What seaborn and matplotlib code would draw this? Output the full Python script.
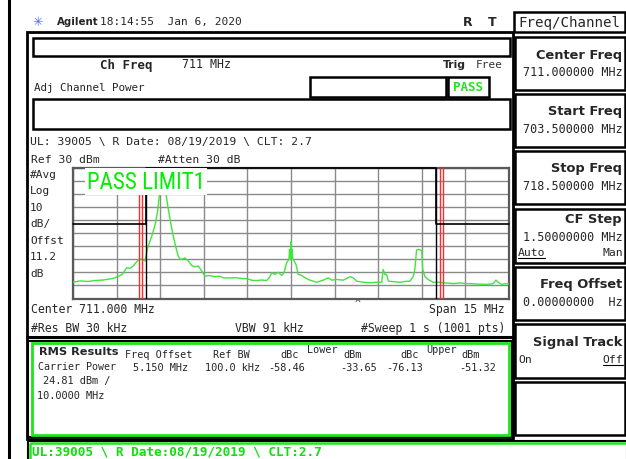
import matplotlib
matplotlib.use("Agg")
import matplotlib.pyplot as plt
import pandas as pd
import seaborn as sns
from matplotlib import font_manager
from matplotlib.patches import Rectangle

# --- trace (MHz / dBm) ---
trace_freq = [703.50, 703.74, 704.02, 704.26, 704.53, 704.77, 704.94, 705.05, 705.19, 705.35,
              705.46, 705.56, 705.67, 705.77, 705.84, 705.91, 705.98, 706.06, 706.21, 706.32,
              706.41, 706.47, 706.51, 706.56, 706.63, 706.70, 706.78, 706.87, 706.95, 707.04,
              707.12, 707.20, 707.28, 707.35, 707.47, 707.58, 707.70, 707.81, 707.93, 708.04,
              708.21, 708.38, 708.53, 708.67, 708.90, 709.13, 709.28, 709.48, 709.65, 709.82,
              709.99, 710.16, 710.26, 710.34, 710.45, 710.56, 710.68, 710.76, 710.85, 710.93,
              710.95, 710.97, 710.99, 711.00, 711.02, 711.04, 711.06, 711.08, 711.17, 711.25,
              711.37, 711.48, 711.65, 711.88, 712.11, 712.28, 712.40, 712.57, 712.80, 713.03,
              713.14, 713.26, 713.49, 713.72, 713.95, 714.12, 714.17, 714.23, 714.29, 714.35,
              714.58, 714.75, 714.92, 715.09, 715.21, 715.26, 715.32, 715.38, 715.44, 715.50,
              715.53, 715.61, 715.72, 715.89, 716.06, 716.24, 716.40, 716.58, 716.81, 717.04,
              717.26, 717.50, 717.73, 717.96, 718.05, 718.13, 718.25, 718.36, 718.50]
trace_dbm = [-57.5, -56.5, -56.9, -56.2, -55.8, -55.0, -54.2, -53.1, -51.5, -46.4,
             -46.9, -45.4, -42.3, -40.0, -39.6, -40.4, -41.2, -31.8, -22.1, -13.8,
             -3.1, 8.7, 17.7, 20.0, 17.7, 10.0, -1.5, -13.1, -22.1, -30.8,
             -37.5, -40.0, -39.6, -38.8, -41.2, -44.6, -45.8, -45.0, -49.0, -52.8,
             -52.3, -53.3, -52.8, -54.1, -54.2, -54.1, -54.6, -54.8, -56.0, -56.2,
             -55.8, -56.2, -53.8, -50.2, -51.5, -49.8, -52.3, -50.2, -42.5, -40.0,
             -32.3, -40.0, -32.3, -26.5, -40.0, -32.3, -40.0, -40.0, -43.8, -51.5,
             -52.3, -54.1, -55.9, -57.5, -55.9, -54.1, -55.9, -55.4, -55.9, -53.3,
             -54.1, -56.7, -57.5, -57.9, -57.5, -57.5, -47.7, -51.5, -51.5, -56.7,
             -57.2, -57.5, -56.9, -56.7, -52.8, -47.7, -32.8, -32.3, -32.5, -33.6,
             -47.7, -53.3, -55.4, -57.5, -57.5, -57.9, -58.2, -58.5, -58.1, -58.5,
             -58.7, -59.0, -59.2, -58.5, -55.9, -57.5, -59.2, -58.7, -58.7]

limit_freq = [703.5, 706.0, 706.0, 716.0, 716.0, 718.5]
limit_dbm = [-13, -13, 30, 30, -13, -13]
channel_edges = [706.0, 716.0]
offset_markers = [705.76, 705.89, 716.11, 716.24]

side_labels = ["#Avg", "Log", "10", "dB/", "Offst", "11.2", "dB"]
softkey_titles = ["Center Freq", "Start Freq", "Stop Freq", "CF Step", "Freq Offset", "Signal Track", ""]
softkey_values = ["711.000000 MHz", "703.500000 MHz", "718.500000 MHz", "1.50000000 MHz",
                  "0.00000000  Hz", "", ""]
rms_heads = ["Freq Offset", "Ref BW", "dBc", "dBm", "dBc", "dBm"]
rms_values = ["5.150 MHz", "100.0 kHz", "-58.46", "-33.65", "-76.13", "-51.32"]

sns.set_style("white")
MONO = "DejaVu Sans Mono"
SANS = "DejaVu Sans"
names = {f.name for f in font_manager.fontManager.ttflist}
NARROW = next((n for n in ["Liberation Sans Narrow", "Roboto Condensed"] if n in names), None)
plt.rcParams["font.family"] = [MONO, "DejaVu Sans"]

GREEN = "#1ee61e"

fig = plt.figure(figsize=(6.26, 4.60), dpi=100)
bg = fig.add_axes([0, 0, 1, 1])
bg.set_xlim(0, 626)
bg.set_ylim(460, 0)
bg.axis("off")


def txt(x, y, s, size=8.2, ha="left", va="center", **kw):
    kw.setdefault("family", MONO)
    bg.text(x, y, s, fontsize=size, ha=ha, va=va, **kw)


def box(x0, y0, x1, y1, lw=1.8, ec="black", fc="none"):
    bg.add_patch(Rectangle((x0, y0), x1 - x0, y1 - y0, lw=lw, ec=ec, fc=fc))


# left black bar and header
bg.plot([9, 9], [0, 460], color="black", lw=2.2)
txt(38, 22, "\u2733", size=9, ha="center", color="#4a6cff", family=SANS)
txt(57, 22, "Agilent", size=7.4, weight="bold", family=SANS)
txt(100, 22.5, "18:14:55  Jan 6, 2020", size=8.0)
txt(463, 22, "R", size=9, weight="bold", family=SANS)
txt(488, 22, "T", size=9, weight="bold", family=SANS)
box(514, 13, 625, 33)
txt(569.5, 22.5, "Freq/Channel", size=10.2, ha="center")

# main frame
box(27, 33, 513, 439.5, lw=2)
box(33, 38.5, 510, 57)
txt(100, 65, "Ch Freq", size=9, weight="bold")
txt(182, 65, "711 MHz", size=8.4)
txt(443, 65, "Trig", size=7.8, weight="bold", family=SANS)
txt(476, 65, "Free", size=8.0, color="#333333")
txt(34, 88, "Adj Channel Power", size=7.8)
box(310, 77.5, 446, 97.5)
box(448, 77.5, 489, 97.5)
txt(468.5, 87.5, "PASS", size=9, weight="bold", ha="center", color=GREEN)
box(33, 99.5, 510, 130)
txt(30, 142, "UL: 39005 \\ R Date: 08/19/2019 \\ CLT: 2.7", size=8.2)
txt(31, 160, "Ref 30 dBm", size=8.2)
txt(158, 160, "#Atten 30 dB", size=8.2)
for i, lab in enumerate(side_labels):
    txt(30, 175 + 16.5 * i, lab, size=8.0)
txt(31, 310, "Center 711.000 MHz", size=8.3)
txt(505, 310, "Span 15 MHz", size=8.3, ha="right")
txt(355, 304, "^", size=7)
txt(31, 328.5, "#Res BW 30 kHz", size=8.3)
txt(235, 328.5, "VBW 91 kHz", size=8.3)
txt(505, 328.5, "#Sweep 1 s (1001 pts)", size=8.3, ha="right")
bg.plot([27, 513], [337.5, 337.5], color="black", lw=2.2)

# RMS results block
box(28, 341.5, 511.5, 438, lw=1.5)
box(31.5, 344, 508.5, 435.5, lw=2, ec=GREEN)
txt(39, 352, "RMS Results", size=8.2, weight="bold", family=SANS)
head_x = [125, 213, 280, 343, 400, 461]
for x, s in zip(head_x, rms_heads):
    txt(x, 355.5, s, size=7.3)
txt(307, 350.5, "Lower", size=7.3)
txt(426, 350.5, "Upper", size=7.3)
txt(38, 367.5, "Carrier Power", size=7.2)
val_right = [188, 260, 305, 377, 423, 496]
for x, s in zip(val_right, rms_values):
    txt(x, 368, s, size=7.4, ha="right")
txt(43, 381.5, "24.81 dBm /", size=7.4)
txt(37, 396, "10.0000 MHz", size=7.4)

# bottom status bar
box(27.5, 441.5, 627, 463, lw=1.5)
box(30, 444, 627, 463, lw=1.8, ec=GREEN)
txt(32, 452, "UL:39005 \\ R Date:08/19/2019 \\ CLT:2.7", size=9.2, weight="bold", color="#11dd11")

# softkeys on the right
tops = [37.5, 94.5, 151.5, 210, 267.5, 325, 382.5]
for top, title, value in zip(tops, softkey_titles, softkey_values):
    box(515, top, 625, top + 53.5)
    if title == "CF Step":
        txt(622, top + 10, title, size=9.4, weight="bold", ha="right", family=SANS)
        txt(623, top + 28, value, size=8.5, ha="right")
        txt(518, top + 43.5, "Auto", size=8.2)
        txt(623, top + 43.5, "Man", size=8.2, ha="right")
        bg.plot([518, 545], [top + 49, top + 49], color="black", lw=0.8)
    elif title == "Signal Track":
        txt(622, top + 18, title, size=9.4, weight="bold", ha="right", family=SANS)
        txt(518, top + 35, "On", size=8.2)
        txt(623, top + 35, "Off", size=8.2, ha="right")
        bg.plot([603, 623], [top + 41, top + 41], color="black", lw=0.8)
    elif title:
        txt(622, top + 17.5, title, size=9.4, weight="bold", ha="right", family=SANS)
        txt(623, top + 35.5, value, size=8.5, ha="right")

# spectrum graticule
ax = fig.add_axes([73 / 626, 1 - 299.5 / 460, 436 / 626, 130.2 / 460])
ax.set_xlim(703.5, 718.5)
ax.set_ylim(-70, 30)
ax.set_xticks([703.5 + 1.5 * i for i in range(11)])
ax.set_yticks([-70 + 10 * i for i in range(11)])
ax.tick_params(length=0, labelbottom=False, labelleft=False)
ax.grid(True, color="#8a8a8a", lw=1.0)
for sp in ax.spines.values():
    sp.set_color("#5a5a5a")
    sp.set_linewidth(1.6)
ax.set_xlabel("")
ax.set_ylabel("")

df = pd.DataFrame({"freq": trace_freq, "dbm": trace_dbm})
sns.lineplot(data=df, x="freq", y="dbm", ax=ax, estimator=None, sort=False,
             color="#3ee63e", lw=1.0, zorder=3)
for f in offset_markers:
    ax.axvline(f, color="#ff2a2a", lw=1.0, zorder=4)
for f in channel_edges:
    ax.axvline(f, color="black", lw=1.0, zorder=4)
lim = pd.DataFrame({"freq": limit_freq, "dbm": limit_dbm})
sns.lineplot(data=lim, x="freq", y="dbm", ax=ax, estimator=None, sort=False,
             color="black", lw=1.2, zorder=4, clip_on=False)
ax.set_xlabel("")
ax.set_ylabel("")

if NARROW:
    pl_font, pl_size = NARROW, 16.5
else:
    pl_font, pl_size = MONO, 12.5
ax.text(0.032, 0.9, "PASS LIMIT1", transform=ax.transAxes, fontsize=pl_size, family=pl_font,
        color="#00ee00", ha="left", va="center", zorder=6,
        bbox=dict(fc="white", ec="none", pad=1.5))

fig.savefig("out.png", dpi=100)
